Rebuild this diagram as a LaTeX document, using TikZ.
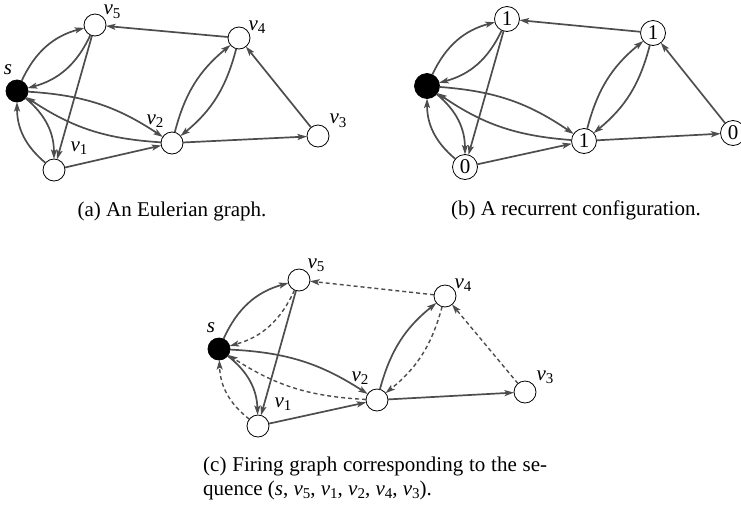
\documentclass[tikz,border=0pt]{standalone}
\usepackage{fontspec}
\setmainfont{Liberation Serif}
\usetikzlibrary{arrows.meta}
\definecolor{edgegray}{HTML}{4d4d4d}
\newcommand\vsub[2]{\textit{#1}\raisebox{-3.5pt}{\fontsize{15}{15}\selectfont #2}}
\tikzset{
  edge/.style={draw=edgegray, line width=1.7pt, -{Stealth[length=9.5pt,width=6pt,inset=2pt]}},
  dedge/.style={edge, line width=1.4pt, dash pattern=on 4pt off 3pt},
  vtx/.style={circle, draw=black, line width=0.8pt, fill=white, minimum size=22pt, inner sep=0pt, outer sep=0pt},
  bvtx/.style={vtx, minimum size=25pt, font=\fontsize{21}{25}\selectfont},
  src/.style={vtx, fill=black},
  bsrc/.style={bvtx, fill=black},
  lbl/.style={font=\fontsize{21}{25}\selectfont, inner sep=0pt},
}
\begin{document}
\begin{tikzpicture}[x=1pt, y=-1pt]
\useasboundingbox (0,0) rectangle (741,509);
% ---------- (a) ----------
\node[src] (as) at (17,91) {};
\node[vtx] (av5) at (95,25) {};
\node[vtx] (av1) at (54,170) {};
\node[vtx] (av2) at (172,143) {};
\node[vtx] (av4) at (239,38) {};
\node[vtx] (av3) at (318,136) {};
\draw[edge] (as) to[bend left=25] (av5);
\draw[edge] (av5) to[bend left=25] (as);
\draw[edge] (as) to[bend left=25] (av1);
\draw[edge] (av1) to[bend left=25] (as);
\draw[edge] (av5) -- (av1);
\draw[edge] (as) to[bend left=15] (av2);
\draw[edge] (av2) to[bend left=15] (as);
\draw[edge] (av1) -- (av2);
\draw[edge] (av2) to[bend left=18] (av4);
\draw[edge] (av4) to[bend left=18] (av2);
\draw[edge] (av2) -- (av3);
\draw[edge] (av3) -- (av4);
\draw[edge] (av4) -- (av5);
\node[lbl] (als) at (8,70) {\textit{s}};
\node[lbl] (alv5) at (112,12) {\vsub{v}{5}};
\node[lbl] (alv4) at (257,27) {\vsub{v}{4}};
\node[lbl] (alv3) at (338,121) {\vsub{v}{3}};
\node[lbl] (alv2) at (155,121) {\vsub{v}{2}};
\node[lbl] (alv1) at (79,148) {\vsub{v}{1}};
\node[lbl, anchor=base] (acap) at (172,216) {(a) An Eulerian graph.};
% ---------- (b) ----------
\node[bsrc] (bs) at (427,86) {};
\node[bvtx] (bv5) at (507,19) {1};
\node[bvtx] (bv1) at (465,167) {0};
\node[bvtx] (bv2) at (584,141) {1};
\node[bvtx] (bv4) at (653,33) {1};
\node[bvtx] (bv3) at (733,133) {0};
\draw[edge] (bs) to[bend left=25] (bv5);
\draw[edge] (bv5) to[bend left=25] (bs);
\draw[edge] (bs) to[bend left=25] (bv1);
\draw[edge] (bv1) to[bend left=25] (bs);
\draw[edge] (bv5) -- (bv1);
\draw[edge] (bs) to[bend left=15] (bv2);
\draw[edge] (bv2) to[bend left=15] (bs);
\draw[edge] (bv1) -- (bv2);
\draw[edge] (bv2) to[bend left=18] (bv4);
\draw[edge] (bv4) to[bend left=18] (bv2);
\draw[edge] (bv2) -- (bv3);
\draw[edge] (bv3) -- (bv4);
\draw[edge] (bv4) -- (bv5);
\node[lbl, anchor=base] (bcap) at (576,215) {(b) A recurrent configuration.};
% ---------- (c) ----------
\node[src] (cs) at (219,349) {};
\node[vtx] (cv5) at (299,280) {};
\node[vtx] (cv1) at (258,426) {};
\node[vtx] (cv2) at (377,400) {};
\node[vtx] (cv4) at (445,296) {};
\node[vtx] (cv3) at (525,392) {};
\draw[edge] (cs) to[bend left=25] (cv5);
\draw[dedge] (cv5) to[bend left=25] (cs);
\draw[edge] (cs) to[bend left=25] (cv1);
\draw[dedge] (cv1) to[bend left=25] (cs);
\draw[edge] (cv5) -- (cv1);
\draw[edge] (cs) to[bend left=15] (cv2);
\draw[dedge] (cv2) to[bend left=15] (cs);
\draw[edge] (cv1) -- (cv2);
\draw[edge] (cv2) to[bend left=18] (cv4);
\draw[dedge] (cv4) to[bend left=18] (cv2);
\draw[edge] (cv2) -- (cv3);
\draw[dedge] (cv3) -- (cv4);
\draw[dedge] (cv4) -- (cv5);
\node[lbl] (cls) at (211,328) {\textit{s}};
\node[lbl] (clv5) at (316,265) {\vsub{v}{5}};
\node[lbl] (clv4) at (463,285) {\vsub{v}{4}};
\node[lbl] (clv3) at (545,377) {\vsub{v}{3}};
\node[lbl] (clv2) at (360,378) {\vsub{v}{2}};
\node[lbl] (clv1) at (283,404) {\vsub{v}{1}};
\node[lbl, anchor=base west] (ccap1) at (203,471) {\makebox[344pt][s]{(c) Firing graph corresponding to the se-}};
\node[lbl, anchor=base west] (ccap2) at (203,495) {quence (\textit{s}, \vsub{v}{5}, \vsub{v}{1}, \vsub{v}{2}, \vsub{v}{4}, \vsub{v}{3}).};
\end{tikzpicture}
\end{document}
